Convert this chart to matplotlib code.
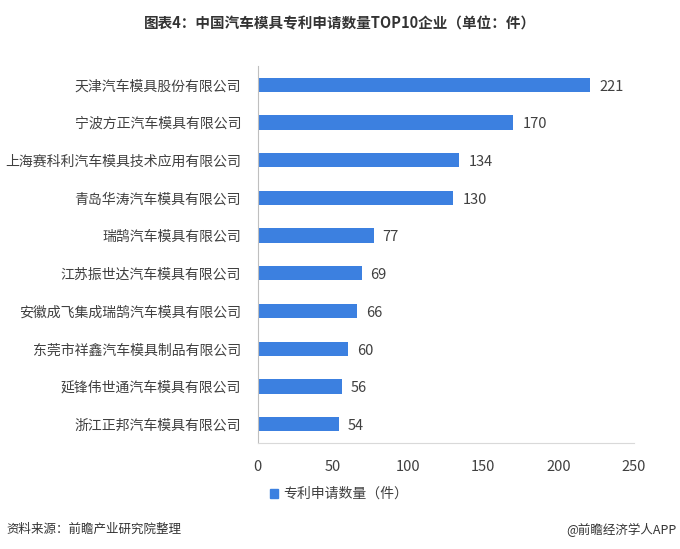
import matplotlib.pyplot as plt
from matplotlib.patches import Patch

plt.rcParams['font.family'] = ['Noto Sans CJK SC', 'DejaVu Sans']

companies = [
    "天津汽车模具股份有限公司",
    "宁波方正汽车模具有限公司",
    "上海赛科利汽车模具技术应用有限公司",
    "青岛华涛汽车模具有限公司",
    "瑞鹄汽车模具有限公司",
    "江苏振世达汽车模具有限公司",
    "安徽成飞集成瑞鹄汽车模具有限公司",
    "东莞市祥鑫汽车模具制品有限公司",
    "延锋伟世通汽车模具有限公司",
    "浙江正邦汽车模具有限公司",
]
patents = [221, 170, 134, 130, 77, 69, 66, 60, 56, 54]
xticks = [0, 50, 100, 150, 200, 250]

bar_color = "#3c80e0"
text_color = "#404040"

fig = plt.figure(figsize=(6.8, 5.49), dpi=100)
ax = fig.add_axes([0.379, 0.193, 0.553, 0.687])

ypos = list(range(len(companies)))[::-1]
ax.barh(ypos, patents, height=0.38, color=bar_color)
for y, v in zip(ypos, patents):
    ax.text(v + 6, y - 0.05, str(v), va="center", ha="left", fontsize=10.5, color=text_color)

ax.set_xlim(0, 250)
ax.set_ylim(-0.5, len(companies) - 0.5)
ax.set_xticks(xticks)
ax.set_xticklabels([str(t) for t in xticks], fontsize=10.5, color=text_color)
ax.set_yticks(ypos)
ax.set_yticklabels(companies, fontsize=10, color=text_color)
ax.tick_params(axis="both", length=0)
ax.tick_params(axis="x", pad=12)
ax.tick_params(axis="y", pad=12)
for side in ["top", "right"]:
    ax.spines[side].set_visible(False)
ax.spines["left"].set_color("#bfbfbf")
ax.spines["bottom"].set_color("#d9d9d9")

fig.text(0.5, 0.958, "图表4：中国汽车模具专利申请数量TOP10企业（单位：件）",
         ha="center", va="center", fontsize=10.5, fontweight="bold", color="#333333")

fig.legend(handles=[Patch(color=bar_color, label="专利申请数量（件）")],
           loc="center left", bbox_to_anchor=(0.378, 0.1), frameon=False,
           fontsize=10, handlelength=0.6, handleheight=0.6, handletextpad=0.4,
           labelcolor=text_color)

fig.text(0.01, 0.035, "资料来源：前瞻产业研究院整理", ha="left", va="center",
         fontsize=9, style="italic", color="#333333")
fig.text(0.995, 0.035, "@前瞻经济学人APP", ha="right", va="center",
         fontsize=9, color="#333333")

fig.savefig("out.png", dpi=100)
